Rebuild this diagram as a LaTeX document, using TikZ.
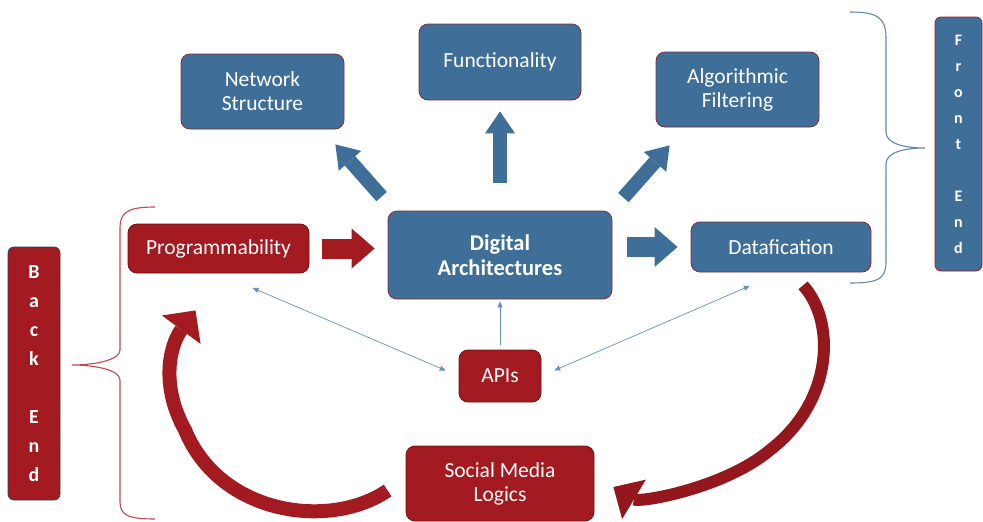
\documentclass[tikz,border=0pt]{standalone}
\usepackage{fontspec}
\setmainfont{Carlito}
\definecolor{archBlue}{RGB}{63, 111, 153}
\definecolor{archRed}{RGB}{163, 26, 32}
\definecolor{archEdge}{RGB}{125, 45, 60}
\definecolor{thinBlue}{RGB}{100, 145, 185}
\definecolor{braceBlue}{RGB}{100, 135, 170}
\definecolor{braceRed}{RGB}{195, 70, 80}
\usetikzlibrary{
    arrows.meta,
    scopes
}

\begin{document}
\begin{tikzpicture}[
        x=1pt, y=-1pt,
        bluebox/.style={rectangle, rounded corners=9pt, draw=archEdge, line width=0.8pt, fill=archBlue, text=white, align=center, font=\fontsize{21.5}{24}\selectfont},
        redbox/.style={bluebox, fill=archRed, draw=archRed!70!black},
        sidebar/.style={rectangle, rounded corners=6pt, line width=0.8pt, text=white, align=center},
    ]
    \useasboundingbox (0,0) rectangle (983,522);
    \begin{scope}
        % upper row
        \node[bluebox, minimum width=163pt, minimum height=75pt] (top_net) at (262.5, 91.5) {Network\\Structure};
        \node[bluebox, minimum width=162pt, minimum height=76pt] (top_func) at (500, 62) {Functionality};
        \node[bluebox, minimum width=163pt, minimum height=75pt] (top_algo) at (737.5, 89.5) {Algorithmic\\Filtering};

        % middle row
        \node[redbox, minimum width=181pt, minimum height=49pt] (mid_prog) at (218.5, 248.5) {Programmability};
        \node[bluebox, minimum width=224pt, minimum height=88pt, font=\bfseries\fontsize{22.5}{25}\selectfont] (mid_arch) at (500, 255) {Digital\\Architectures};
        \node[bluebox, minimum width=180pt, minimum height=50pt] (mid_data) at (781, 247) {Datafication};

        % lower row
        \node[redbox, minimum width=82pt, minimum height=52pt] (low_apis) at (500, 376) {APIs};
        \node[redbox, minimum width=188pt, minimum height=75pt] (low_social) at (500, 483.5) {Social Media\\Logics};

        % side labels
        \node[sidebar, fill=archRed, draw=archBlue!60!black, minimum width=52pt, minimum height=253pt, font=\bfseries\fontsize{20}{29}\selectfont] (side_back) at (34, 373.5) {B\\a\\c\\k\\[29pt]E\\n\\d};
        \node[sidebar, fill=archBlue, draw=archRed, minimum width=47pt, minimum height=254pt, font=\bfseries\fontsize{16}{26}\selectfont] (side_front) at (958.5, 144) {F\\r\\o\\n\\t\\[26pt]E\\n\\d};
    \end{scope}

    % braces
    \draw[braceBlue, line width=1.1pt] (850,12) .. controls (878,12) and (886,18) .. (886,38) -- (886,132) .. controls (886,144) and (905,148) .. (925,148) .. controls (905,148) and (886,152) .. (886,164) -- (886,262) .. controls (886,279) and (878,283) .. (850,283);
    \draw[braceRed, line width=1.1pt] (155,207) .. controls (128,207) and (120,212) .. (120,228) -- (120,350) .. controls (120,360) and (95,365) .. (72,365) .. controls (95,365) and (120,370) .. (120,380) -- (120,502) .. controls (120,515) and (128,519) .. (155,519);

    \begin{scope} [every edge/.style={draw=archRed, line width=20pt, -{Triangle[length=23pt, width=40pt, line width=0pt]}}]
        \path (mid_prog.east) edge[shorten <=13pt, shorten >=13pt] (mid_prog.east -| mid_arch.west);
    \end{scope}
    \begin{scope} [every edge/.style={draw=archBlue, line width=20pt, -{Triangle[length=23pt, width=40pt, line width=0pt]}}]
        \path (mid_arch.east |- mid_data.west) edge[shorten <=15pt, shorten >=13pt] (mid_data.west);
    \end{scope}
    \begin{scope} [every edge/.style={draw=archBlue, line width=14pt, -{Triangle[length=22pt, width=30pt, line width=0pt]}}]
        \path (mid_arch.north) edge[shorten <=28pt, shorten >=11pt] (top_func.south);
        \path ([shift={(-6,-14)}]mid_arch.north west) edge ([shift={(-9,15)}]top_net.south east);
        \path ([shift={(11,-13)}]mid_arch.north east) edge ([shift={(14,18)}]top_algo.south west);
    \end{scope}

    \begin{scope} [every edge/.style={draw=thinBlue, line width=0.7pt}]
        \path [{Triangle[length=6pt, width=5pt]}-{Triangle[length=6pt, width=5pt]}] (low_apis.west) edge[shorten <=14pt, shorten >=37pt] (mid_prog.south);
        \path [{Triangle[length=6pt, width=5pt]}-{Triangle[length=6pt, width=5pt]}] (low_apis.east) edge[shorten <=14pt, shorten >=34pt] (mid_data.south);
        \path [-{Triangle[length=6pt, width=5pt]}] (low_apis.north) edge[shorten <=5pt, shorten >=2pt] (mid_arch.south);
    \end{scope}

    % curved loop arrows
    \draw[archRed, line width=14pt, -{Triangle[length=24pt, width=48pt, line width=0pt]}] ([shift={(-18,7)}]low_social.west) .. controls (330,530) and (220,515) .. (185,430) .. controls (160,385) and (170,345) .. ([shift={(-23,37)}]mid_prog.south);
    \draw[archRed!90!black, line width=12pt, -{Triangle[length=24pt, width=46pt, line width=0pt]}] ([shift={(22,13)}]mid_data.south) .. controls (835,320) and (835,400) .. (770,450) .. controls (725,488) and (640,503) .. ([shift={(19,3.5)}]low_social.east);
\end{tikzpicture}
\end{document}
